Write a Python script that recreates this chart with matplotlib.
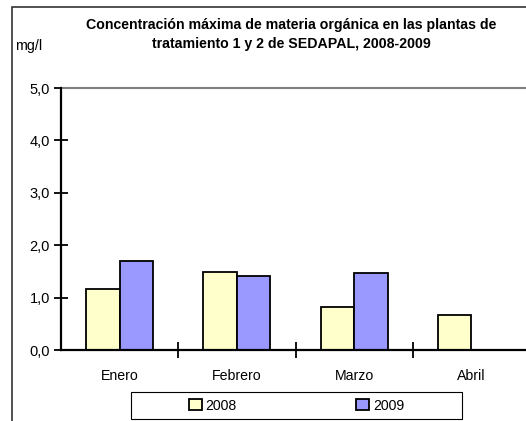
import matplotlib
matplotlib.use("Agg")
import matplotlib.pyplot as plt
from matplotlib.patches import Rectangle, Patch
import numpy as np

categories = ["Enero", "Febrero", "Marzo", "Abril"]
series_names = ["2008", "2009"]
values_2008 = [1.16, 1.48, 0.83, 0.67]
values_2009 = [1.69, 1.41, 1.46, np.nan]
yticks = [0, 1, 2, 3, 4, 5]
ytick_labels = ["0,0", "1,0", "2,0", "3,0", "4,0", "5,0"]
title = "Concentración máxima de materia orgánica en las plantas de\ntratamiento 1 y 2 de SEDAPAL, 2008-2009"
ylabel = "mg/l"

plt.rcParams['font.family'] = ['Liberation Sans', 'DejaVu Sans']

W, H = 526, 421
fig = plt.figure(figsize=(W / 100, H / 100), dpi=100)

# outer chart border (left and top visible)
fig.add_artist(Rectangle((12 / W, -0.05), 1.2, (H - 7) / H + 0.05, transform=fig.transFigure,
                         fill=False, edgecolor="#333333", linewidth=1.2))

ax = fig.add_axes([61 / W, (H - 350) / H, 469 / W, 262 / H])
x = np.arange(len(categories))
bw = 0.285
c2008 = "#FFFFCC"
c2009 = "#9999FF"
ax.bar(x - bw / 2, values_2008, bw, color=c2008, edgecolor="black", linewidth=1.3, zorder=3)
ax.bar(x + bw / 2, values_2009, bw, color=c2009, edgecolor="black", linewidth=1.3, zorder=3)

ax.set_xlim(-0.5, len(categories) - 0.5)
ax.set_ylim(0, 5)
ax.set_yticks(yticks)
ax.set_yticklabels(ytick_labels, fontsize=10.5)
ax.set_xticks(np.arange(len(categories) - 1) + 0.5)
ax.set_xticklabels([])
ax.set_xticks(x, minor=True)
ax.set_xticklabels(categories, minor=True, fontsize=10.2)
ax.tick_params(axis='x', which='minor', length=0, pad=14)
ax.tick_params(axis='x', which='major', direction='inout', length=11, width=1.3)
ax.tick_params(axis='y', direction='inout', length=10, width=1.3, pad=3)

for s in ['left', 'bottom']:
    ax.spines[s].set_linewidth(1.6)
    ax.spines[s].set_zorder(4)
ax.spines['right'].set_visible(False)
ax.spines['top'].set_color("#808080")
ax.spines['top'].set_linewidth(1.5)

fig.text(291 / W, (H - 34.5) / H, title, ha='center', va='center', fontsize=10.2,
         fontweight='bold', linespacing=1.5)
fig.text(15 / W, (H - 46) / H, ylabel, ha='left', va='center', fontsize=10.3)

# legend box
fig.add_artist(Rectangle((131 / W, (H - 419) / H), 331 / W, 27 / H, transform=fig.transFigure,
                         fill=False, edgecolor="black", linewidth=0.8))
handles = [Patch(facecolor=c2008, edgecolor="black", linewidth=1.3),
           Patch(facecolor=c2009, edgecolor="black", linewidth=1.3)]
fig.legend(handles, series_names, loc='center', bbox_to_anchor=(296.5 / W, (H - 405.5) / H),
           ncol=2, frameon=False, fontsize=10.2, handlelength=0.9, handleheight=0.9,
           handletextpad=0.3, columnspacing=8.4, borderpad=0)

fig.savefig("out.png", dpi=100)
